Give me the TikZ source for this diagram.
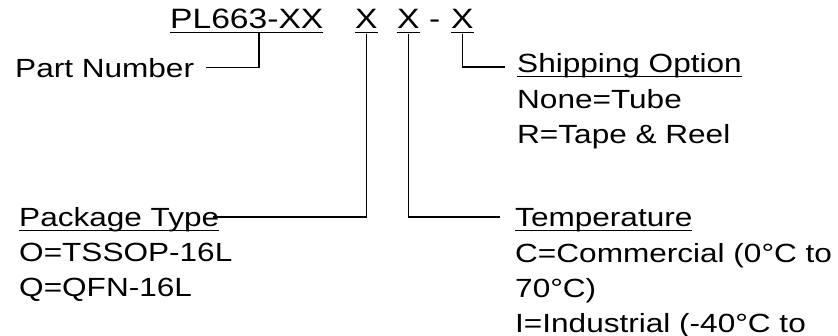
\documentclass[tikz,border=0pt]{standalone}
\usepackage{fontspec}
\setmainfont{Liberation Sans}[FakeStretch=1.2]
\newcommand{\ulabel}[1]{\setbox0\hbox{#1}\rlap{\rule[-4.5pt]{\wd0}{1.4pt}}\box0}

\begin{document}
\begin{tikzpicture}[x=1pt,y=-1pt]
    \tikzstyle{code} = [inner sep=0pt, anchor=base west, font=\fontsize{28}{34}\selectfont]
    \tikzstyle{field} = [inner sep=0pt, anchor=base west, font=\fontsize{26.3}{35}\selectfont]
    \tikzstyle{choice} = [field, anchor=north west, align=left]
    \tikzstyle{lead} = [line width=1.5pt]

    \useasboundingbox (0,0) rectangle (838,336);
    \clip (0,0) rectangle (838,336);

    % part code
    \node[code] (base) at (170,29) {\ulabel{PL663-XX}};
    \node[code] (pkgx) at (355,29) {\ulabel{X}};
    \node[code] (tempx) at (397,29) {\ulabel{X}};
    \node[code] (dash) at (429,29) {-};
    \node[code] (shipx) at (451,29) {\ulabel{X}};

    % fields
    \node[field] (partnum) at (15,78) {Part Number};
    \node[field] (ship) at (517,73) {\ulabel{Shipping Option}};
    \node[choice] (shipopt) at (517,89) {None=Tube\\R=Tape \& Reel};
    \node[field] (pkg) at (19,227) {\ulabel{Package Type}};
    \node[choice] (pkgopt) at (19,243) {O=TSSOP-16L\\Q=QFN-16L};
    \node[field] (temp) at (515,227) {\ulabel{Temperature}};
    \node[choice] (tempopt) at (515,243) {C=Commercial (0°C to\\70°C)\\I=Industrial (-40°C to};

    \coordinate (basetap) at (259,33.5);

    % leads
    \draw[lead] ([shift={(12pt,10.5pt)}]partnum.base east) -| (basetap);
    \draw[lead] (pkgx.south) |- ([shift={(-6pt,10pt)}]pkg.base east);
    \draw[lead] (tempx.south) |- ([shift={(-15pt,10pt)}]temp.base west);
    \draw[lead] (shipx.south) |- ([shift={(-12pt,6pt)}]ship.base west);
\end{tikzpicture}
\end{document}
